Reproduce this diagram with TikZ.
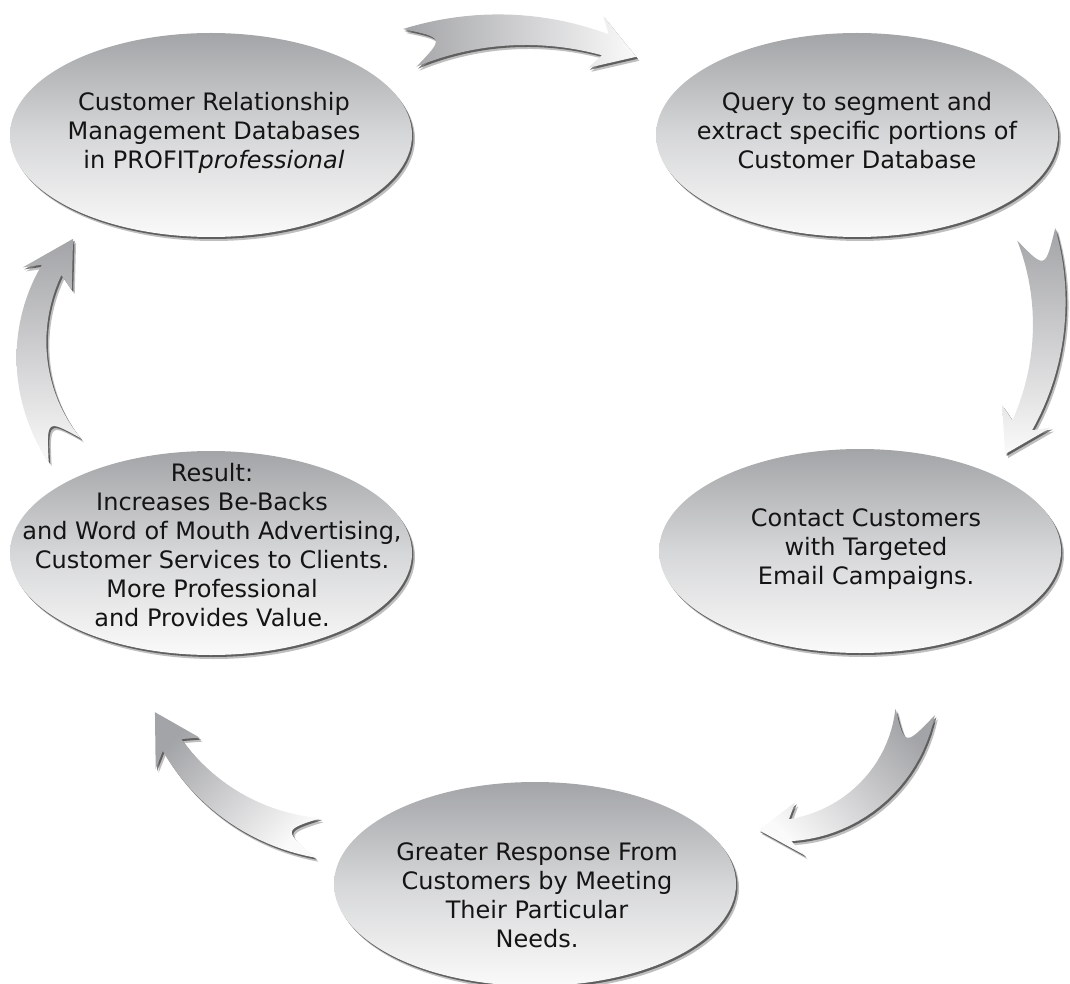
\documentclass[tikz,border=0pt]{standalone}
\usepackage{fontspec}
\newfontfamily\stagefont{DejaVu Sans}
\usetikzlibrary{shapes.geometric,shadows}

\definecolor{shadegray}{RGB}{163,164,167}
\definecolor{midgray}{RGB}{214,215,216}

\tikzset{
  rimshadow/.style={drop shadow={shadow xshift=3pt, shadow yshift=-4pt, opacity=.25, fill=black},
                    drop shadow={shadow xshift=1.5pt, shadow yshift=-2pt, opacity=.5, fill=black}},
  stage/.style={ellipse, minimum width=402pt, minimum height=204pt, inner sep=0pt,
                top color=shadegray, bottom color=white!98!black, middle color=midgray, rimshadow},
  stagetext/.style={align=center, text=black!92, inner sep=0pt,
                    font=\stagefont\fontsize{24}{29}\selectfont},
  arrowbody/.style={top color=shadegray, bottom color=white!98!black, rimshadow},
}

% curved block arrow: centre x, centre y, radius, tail angle, neck angle, tip angle, shading angle
\newcommand\cyclearrow[7]{%
  \pgfmathsetmacro\notch{#4+2063/#3}%
  \pgfmathsetmacro\barb{#5-573/#3}%
  \shade[arrowbody, shading angle=#7]
    plot[domain=#4:#5, samples=24, variable=\t]
      ({#1+(#3+20-9*(\t-(#4))/((#5)-(#4)))*cos(\t)},
       {#2+(#3+20-9*(\t-(#4))/((#5)-(#4)))*sin(\t)})
    -- ({#1+(#3+27)*cos(\barb)},{#2+(#3+27)*sin(\barb)})
    -- ({#1+#3*cos(#6)},{#2+#3*sin(#6)})
    -- ({#1+(#3-27)*cos(\barb)},{#2+(#3-27)*sin(\barb)})
    -- plot[domain=#5:#4, samples=24, variable=\t]
      ({#1+(#3-20+9*(\t-(#4))/((#5)-(#4)))*cos(\t)},
       {#2+(#3-20+9*(\t-(#4))/((#5)-(#4)))*sin(\t)})
    .. controls ({#1+#3*cos(\notch)},{#2+#3*sin(\notch)})
    .. ({#1+(#3+20)*cos(#4)},{#2+(#3+20)*sin(#4)}) -- cycle;
}

\begin{document}
\begin{tikzpicture}[x=1pt, y=-1pt]
\useasboundingbox (0,0) rectangle (1070,984);

% the five stages
\node[stage] (crm) at (211,135) {};
\node[stagetext] at (214,133) {Customer Relationship\\Management Databases\\in PROFIT\textit{professional}};

\node[stage] (query) at (857,135) {};
\node[stagetext] at (857,131) {Query to segment and\\extract specific portions of\\Customer Database};

\node[stage] (contact) at (860,551) {};
\node[stagetext] at (866,549) {Contact Customers\\with Targeted\\Email Campaigns.};

\node[stage] (response) at (535,884) {};
\node[stagetext] at (537,895) {Greater Response From\\Customers by Meeting\\Their Particular\\Needs.};

\node[stage] (result) at (211,553) {};
\node[stagetext] at (212,545) {Result:\\Increases Be-Backs\\and Word of Mouth Advertising,\\Customer Services to Clients.\\More Professional\\and Provides Value.};

% arrows round the cycle
\cyclearrow{512}{332}{302}{-109.8}{-72}{-65.7}{90}
\cyclearrow{800}{313}{249}{-18.4}{26.8}{34.5}{0}
\cyclearrow{775}{689}{142}{9.3}{83.9}{96.6}{-45}
\cyclearrow{345.4}{633.7}{206}{97.6}{147.3}{157.6}{45}
\cyclearrow{200.6}{349.7}{169}{143.5}{208.2}{221}{0}
\end{tikzpicture}
\end{document}
